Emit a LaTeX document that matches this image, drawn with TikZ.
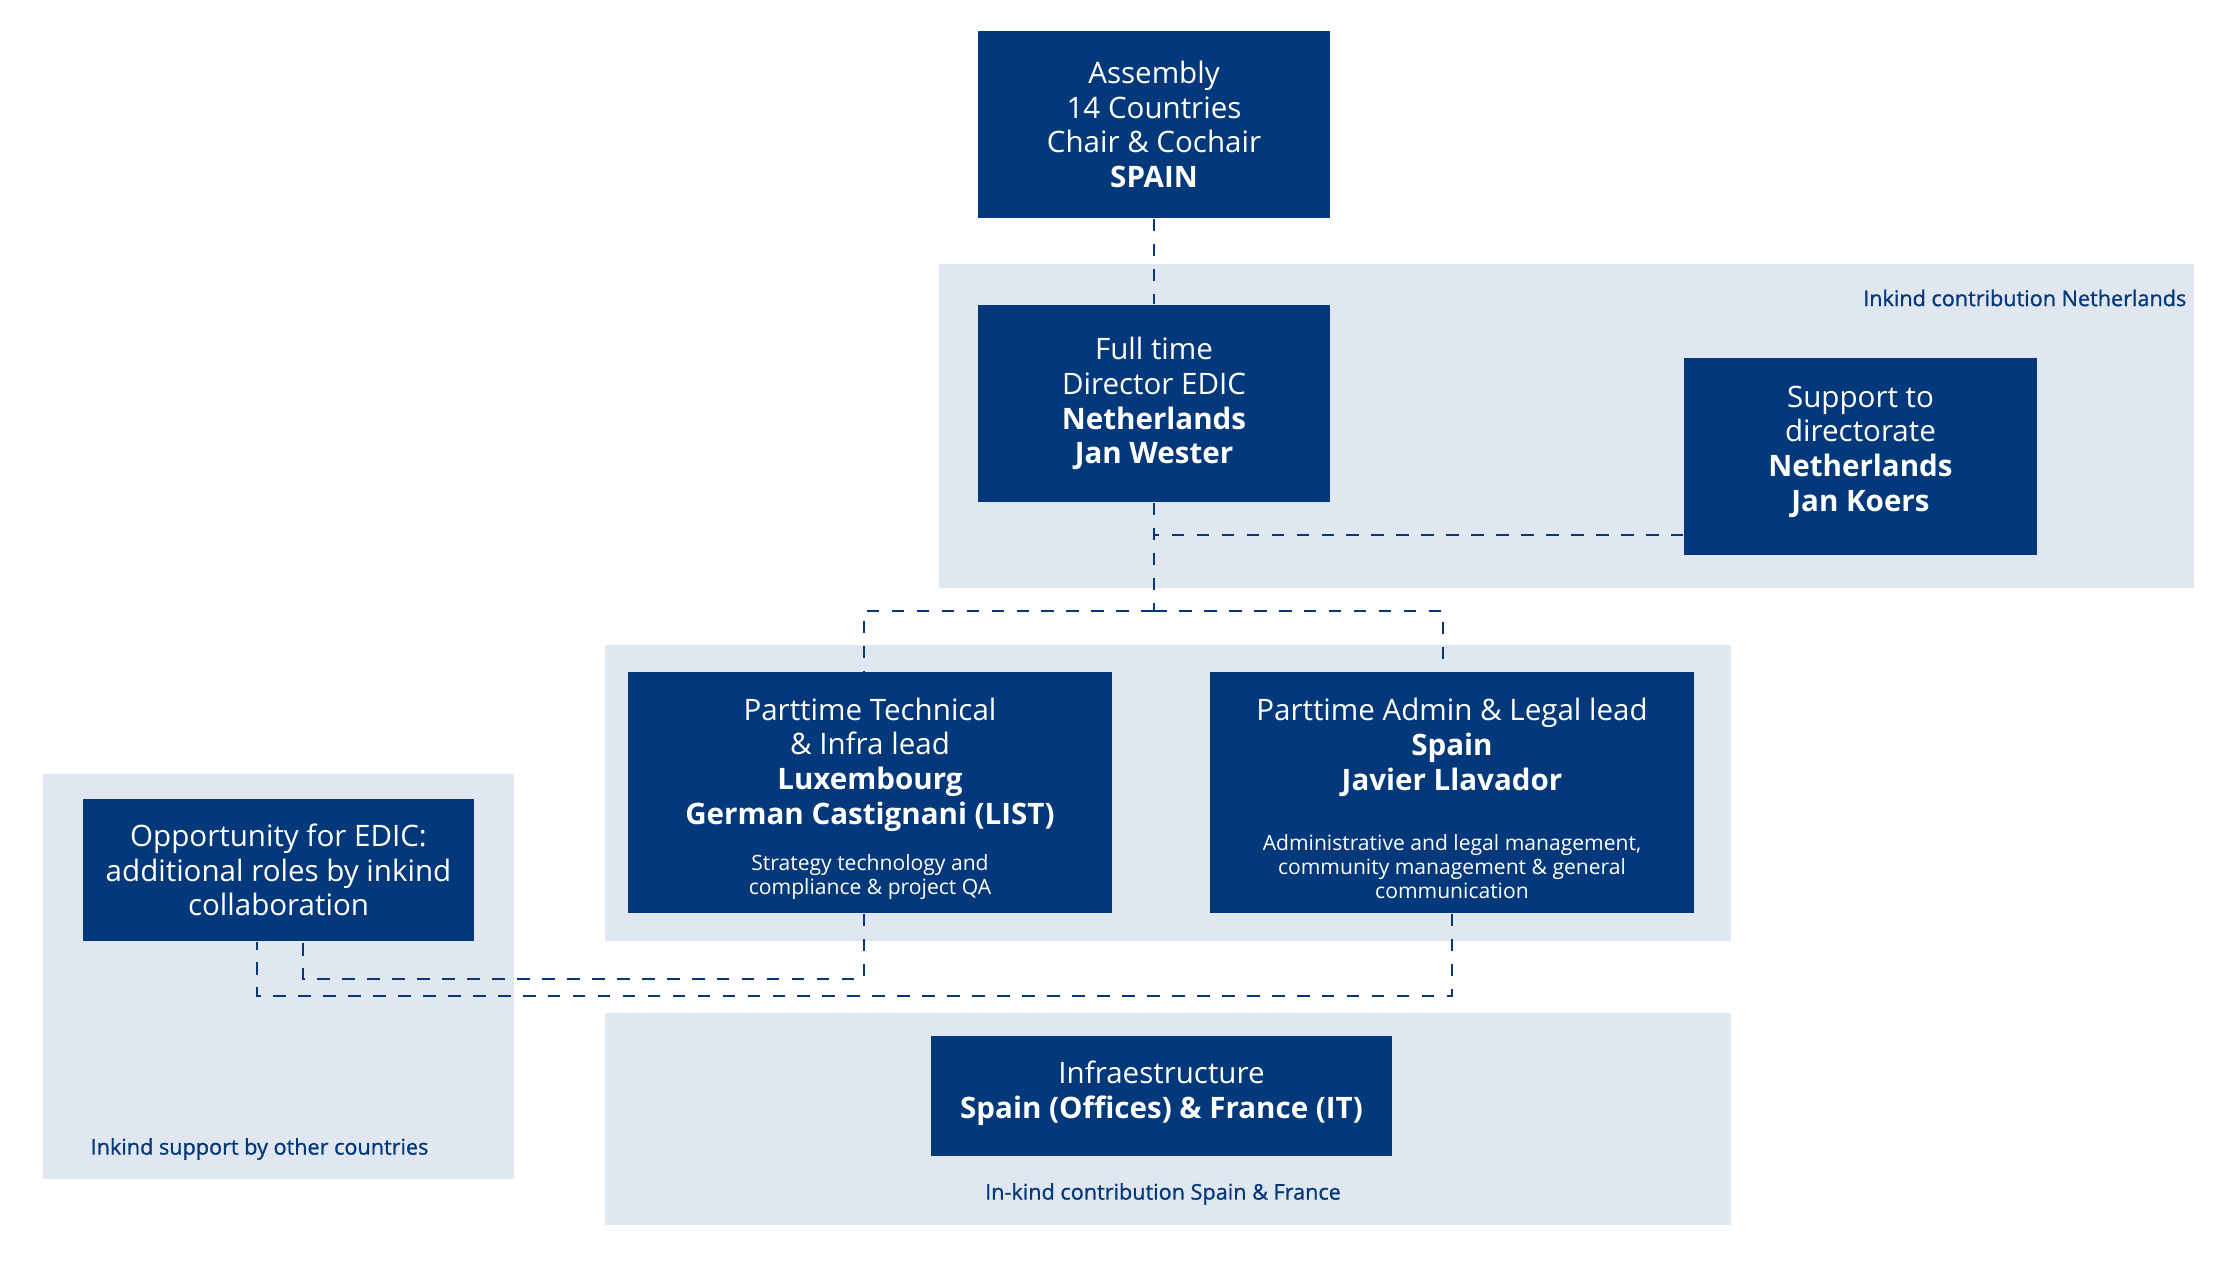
\documentclass[tikz,border=0pt]{standalone}
\usepackage{fontspec}
\setmainfont{Open Sans}
\newfontface\labelfont{Open Sans}[FakeBold=1]
\usetikzlibrary{positioning, calc}
\definecolor{edicblue}{RGB}{3,56,122}
\definecolor{panelgrey}{RGB}{225,231,240}
\tikzset{
  orgbox/.style={rectangle, fill=edicblue, text=white, align=center, inner sep=0pt,
                 font=\fontsize{8.4}{9.9}\selectfont},
  panel/.style={fill=panelgrey},
  paneltext/.style={text=edicblue, inner sep=0pt, font=\labelfont\fontsize{6.15}{7}\selectfont},
  link/.style={draw=edicblue, line width=0.6pt, dash pattern=on 3.6pt off 3.5pt}
}
\newcommand{\smalllines}[1]{{\fontsize{6}{6.9}\selectfont\begin{tabular}[t]{@{}c@{}}#1\end{tabular}}}

\begin{document}
\begin{tikzpicture}[x=0.01cm, y=-0.01cm]
    \useasboundingbox (0,0) rectangle (2238,1261);
    \fill[panel] (939,264) rectangle (2194,588);
    \fill[panel] (605,645) rectangle (1731,941);
    \fill[panel] (43,774) rectangle (514,1179);
    \fill[panel] (605,1013) rectangle (1731,1225);
    \node[paneltext, anchor=east] (nltag) at (2187,298) {Inkind contribution Netherlands};
    \node[paneltext, anchor=west] (othertag) at (90,1149) {Inkind support by other countries};
    \node[paneltext] (esfrtag) at (1163,1194) {In-kind contribution Spain \& France};
    \node[orgbox, minimum width=3.52cm, minimum height=1.87cm] (assembly) at (1154,124.5)
      {Assembly\\14 Countries\\Chair \& Cochair\\\textbf{SPAIN}};
    \node[orgbox, minimum width=3.52cm, minimum height=1.97cm] (director) at (1154,403.5)
      {Full time\\Director EDIC\\\textbf{Netherlands}\\\textbf{Jan Wester}};
    \node[orgbox, minimum width=3.53cm, minimum height=1.97cm] (support) at (1860.5,456.5)
      {Support to\\directorate\\\textbf{Netherlands}\\\textbf{Jan Koers}\rule[-4.5pt]{0pt}{0pt}};
    \node[orgbox, minimum width=4.84cm, minimum height=2.41cm] (tech) at (870,792.5)
      {\rule{0pt}{10.5pt}Parttime Technical\\\& Infra lead\\\textbf{Luxembourg}\\\textbf{German Castignani (LIST)}\\[3.1pt]
       \smalllines{Strategy technology and\\compliance \& project QA}};
    \node[orgbox, minimum width=4.84cm, minimum height=2.41cm] (admin) at (1452,792.5)
      {\rule{0pt}{12pt}Parttime Admin \& Legal lead\\\textbf{Spain}\\\textbf{Javier Llavador}\\[7.1pt]
       \smalllines{Administrative and legal management,\\community management \& general\\communication}};
    \node[orgbox, minimum width=3.91cm, minimum height=1.42cm] (opp) at (278.5,870)
      {Opportunity for EDIC:\\additional roles by inkind\\collaboration};
    \node[orgbox, minimum width=4.61cm, minimum height=1.2cm] (infra) at (1161.5,1096)
      {Infraestructure\\\textbf{Spain (Offices) \& France (IT)}\rule[-3.6pt]{0pt}{0pt}};
    \coordinate (nlrow) at (1154,535);
    \coordinate (split) at (1154,611);
    \coordinate (lowtech) at (303,979);
    \coordinate (lowadmin) at (257,996);
    \draw[link] (assembly.south) -- (director.north);
    \draw[link] (director.south) -- (nlrow) -- (nlrow -| support.west);
    \draw[link] (director.south) -- (split);
    \draw[link] (split) -| ([xshift=-0.06cm]tech.north);
    \draw[link] (split) -| ([xshift=-0.09cm]admin.north);
    \draw[link] ([xshift=-0.06cm]tech.south) |- (lowtech) -- (lowtech |- opp.south);
    \draw[link] (admin.south) |- (lowadmin) -- (lowadmin |- opp.south);
\end{tikzpicture}
\end{document}
